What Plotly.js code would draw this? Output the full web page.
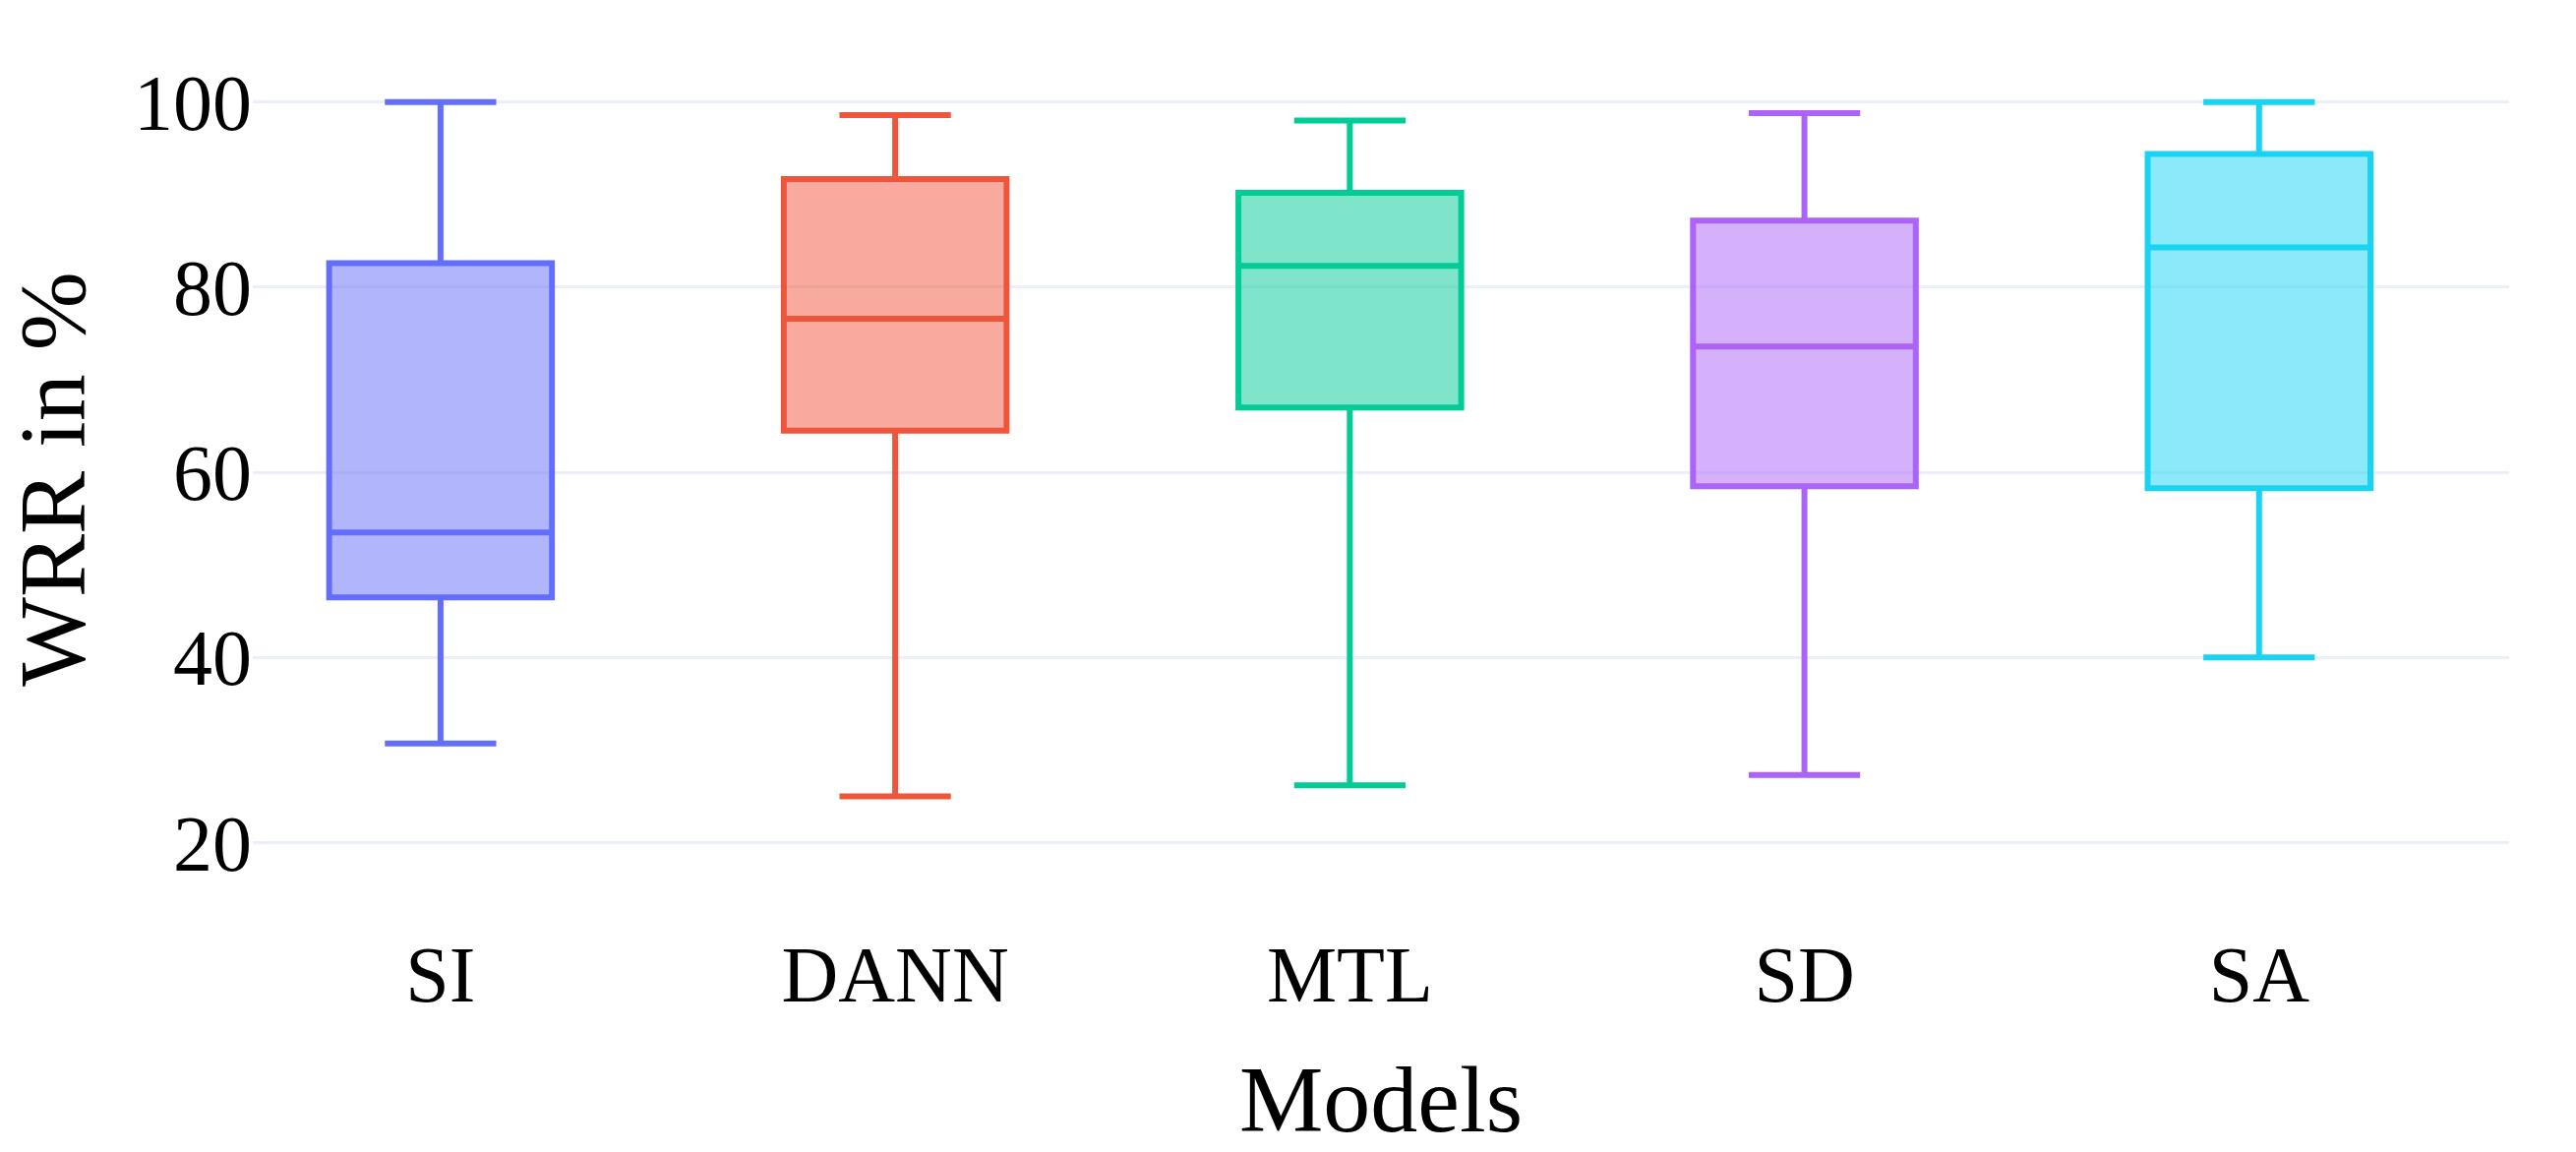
<!DOCTYPE html>
<html>
<head>
<meta charset="utf-8">
<script src="https://cdn.plot.ly/plotly-3.0.1.min.js"></script>
<style>
  html, body { margin: 0; padding: 0; background: #fff; }
  #chart { width: 2619px; height: 1171px; }
</style>
</head>
<body>
<div id="chart"></div>
<script>
const models = ['SI', 'DANN', 'MTL', 'SD', 'SA'];
const lowerFence = [30.7, 25.0, 26.2, 27.3, 40.0];
const q1 = [46.5, 64.5, 67.0, 58.5, 58.3];
const median = [53.5, 76.6, 82.3, 73.6, 84.3];
const q3 = [82.6, 91.7, 90.2, 87.2, 94.4];
const upperFence = [100.0, 98.6, 98.0, 98.8, 100.0];
const colors = ['#636efa', '#EF553B', '#00cc96', '#ab63fa', '#19d3f3'];

const FONT = 'Liberation Serif, Times New Roman, serif';

const traces = models.map((m, i) => ({
  type: 'box',
  name: m,
  x: [m],
  q1: [q1[i]],
  median: [median[i]],
  q3: [q3[i]],
  lowerfence: [lowerFence[i]],
  upperfence: [upperFence[i]],
  marker: { color: colors[i] },
  line: { color: colors[i], width: 6 },
  boxpoints: false,
}));

const layout = {
  width: 2619,
  height: 1171,
  paper_bgcolor: '#ffffff',
  plot_bgcolor: '#ffffff',
  showlegend: false,
  boxgap: 0.3,
  boxgroupgap: 0.3,
  font: { family: FONT, color: '#000000', size: 80 },
  margin: { l: 257, r: 68, t: 37, b: 234 },
  xaxis: {
    type: 'category',
    range: [-0.413, 4.55],
    showgrid: false,
    zeroline: false,
    showline: false,
    tickfont: { family: FONT, size: 80, color: '#000' },
    title: { text: 'Models', font: { family: FONT, size: 96, color: '#000' } },
  },
  yaxis: {
    range: [11.45, 107.1],
    tickvals: [20, 40, 60, 80, 100],
    gridcolor: '#EBF0F8',
    gridwidth: 3,
    zeroline: false,
    showline: false,
    tickfont: { family: FONT, size: 80, color: '#000' },
    title: { text: 'WRR in %', font: { family: FONT, size: 96, color: '#000' } },
  },
};

Plotly.newPlot('chart', traces, layout, { displayModeBar: false, staticPlot: true });
</script>
</body>
</html>
